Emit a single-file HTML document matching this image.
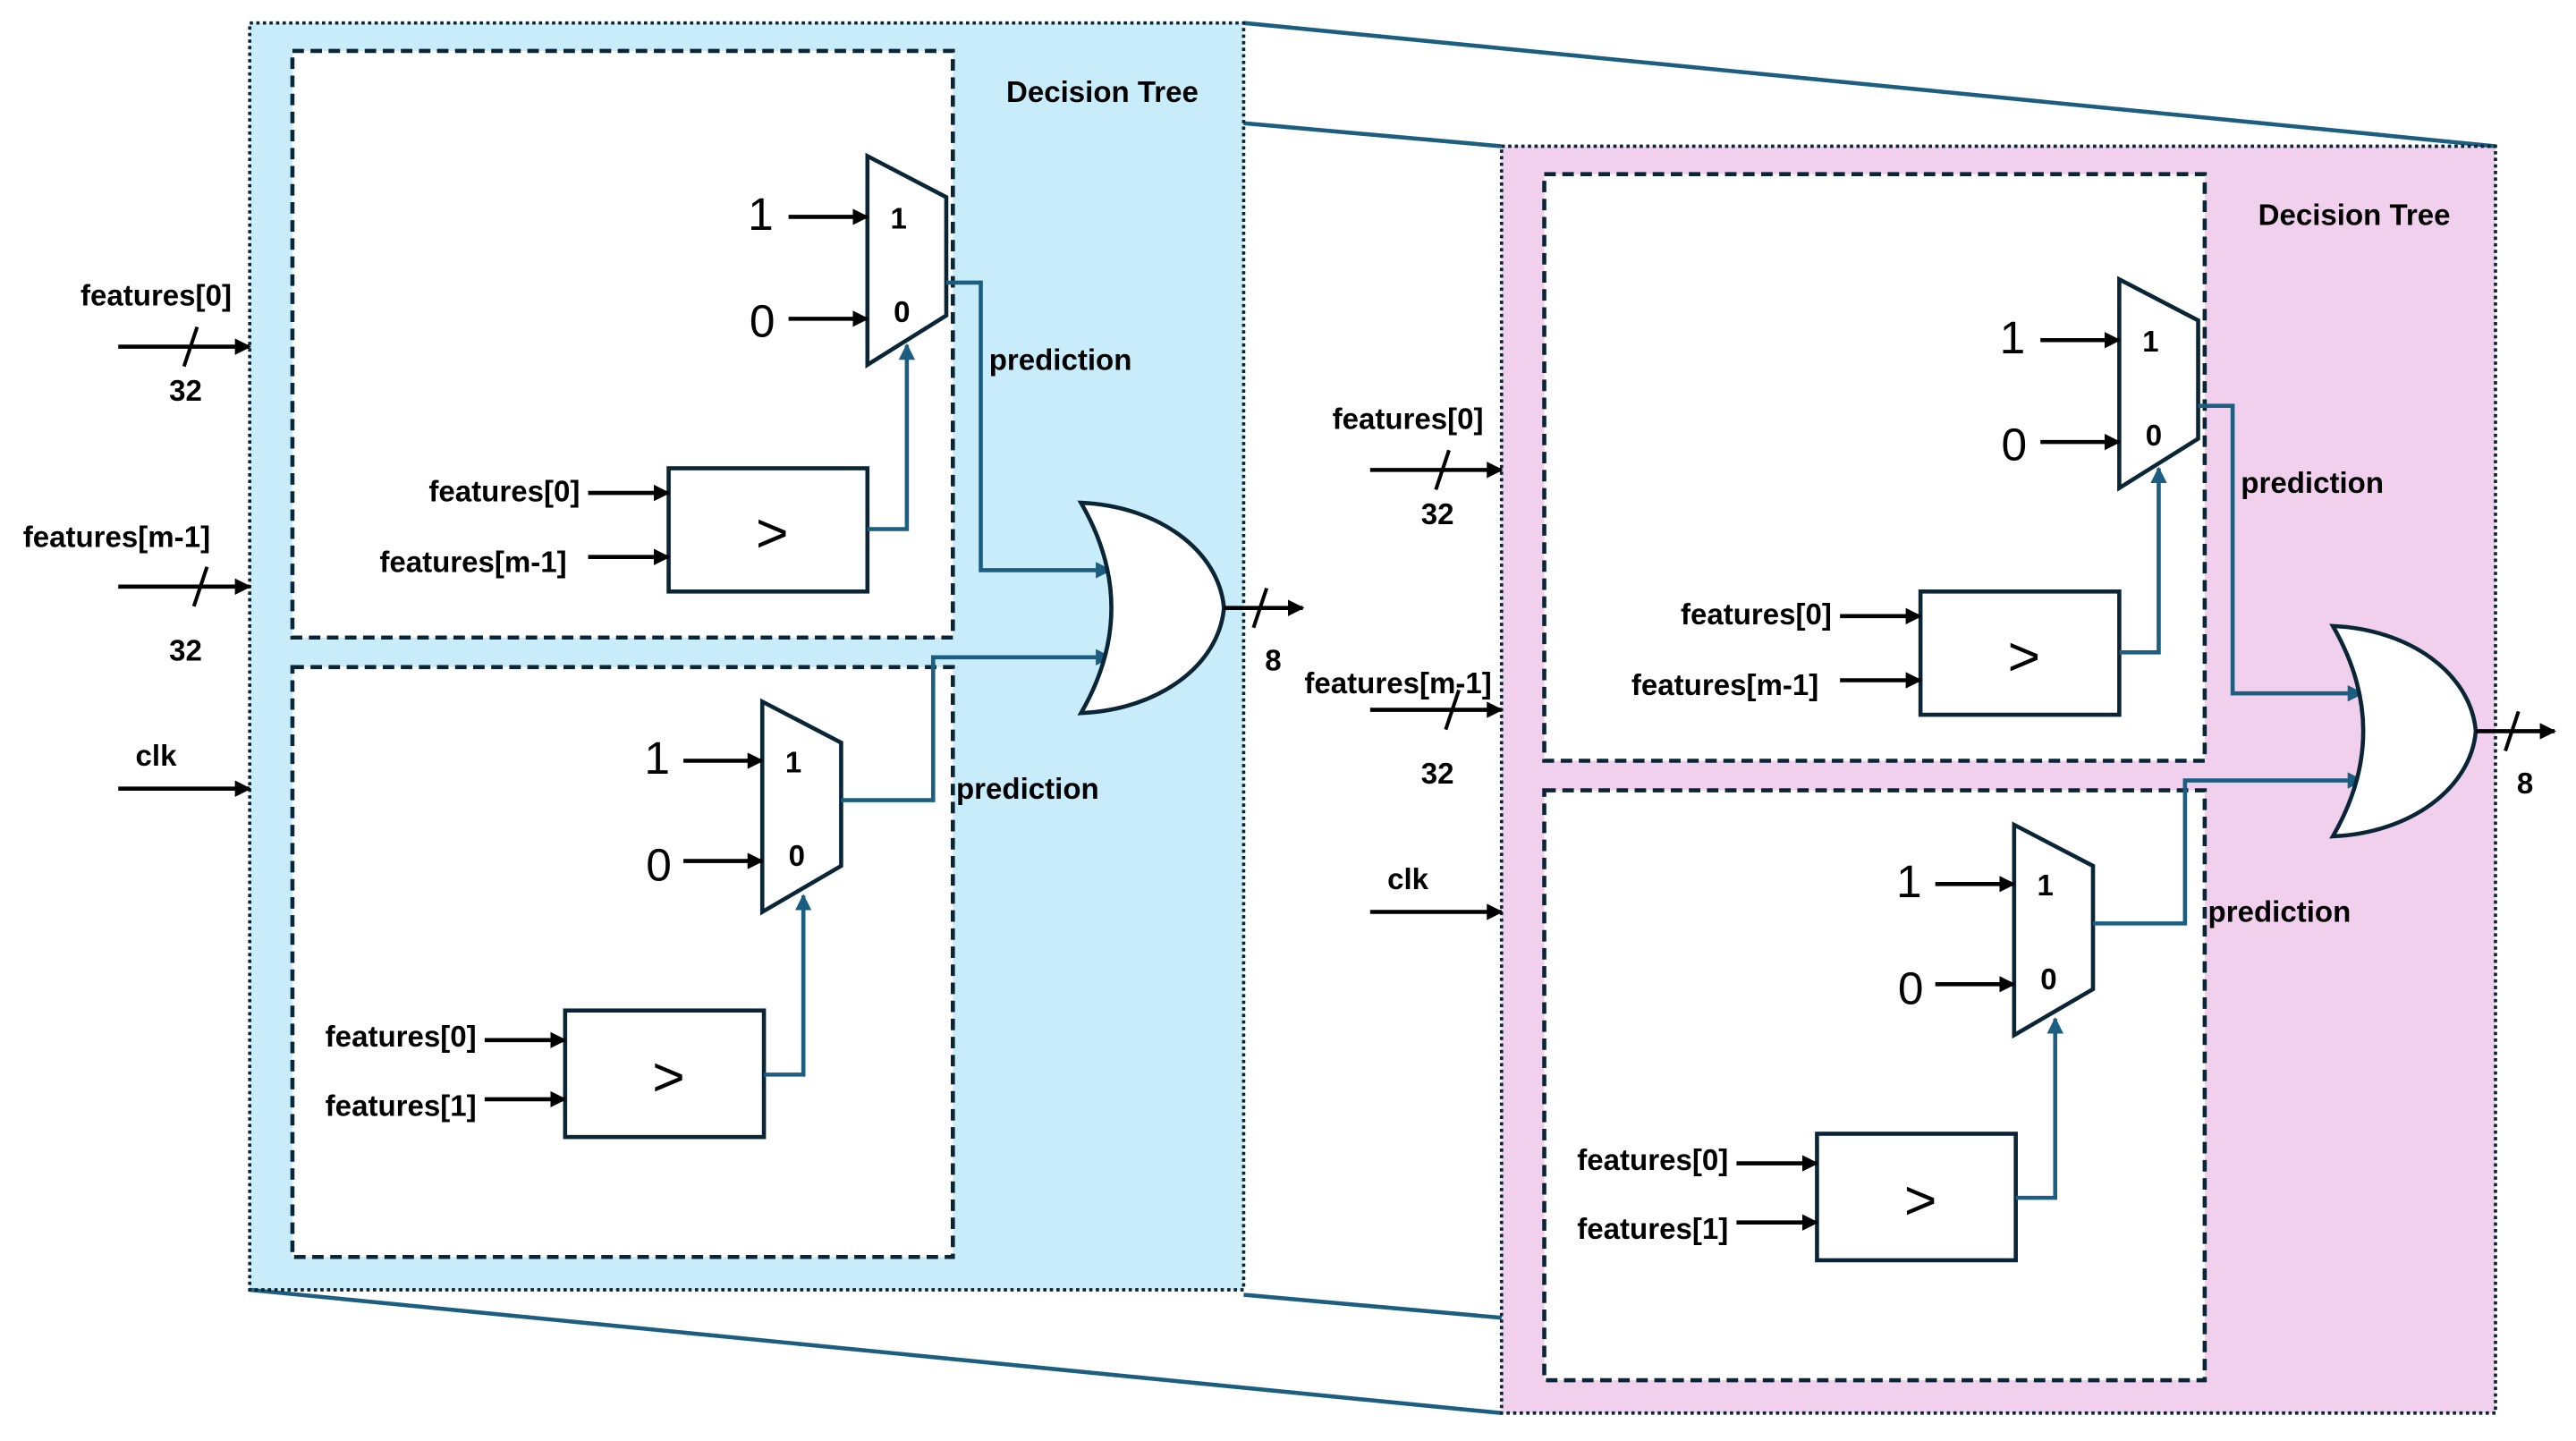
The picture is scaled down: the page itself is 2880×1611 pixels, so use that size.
<!DOCTYPE html>
<html><head><meta charset="utf-8"><style>
html,body{margin:0;padding:0;background:#fff}
svg{display:block}
text{font-family:"Liberation Sans",Arial,sans-serif;fill:#000}
.b{font-weight:bold;font-size:18px}
</style></head><body>
<svg width="2880" height="1611" viewBox="0 0 1568 877" preserveAspectRatio="none" xmlns="http://www.w3.org/2000/svg">
<defs>
<marker id="ak" markerWidth="10" markerHeight="10" refX="9" refY="5" orient="auto" markerUnits="userSpaceOnUse"><path d="M0,0 L10,5 L0,10 z" fill="#000"/></marker>
<marker id="ab" markerWidth="10" markerHeight="10" refX="9" refY="5" orient="auto" markerUnits="userSpaceOnUse"><path d="M0,0 L10,5 L0,10 z" fill="#1b5e80"/></marker>
<g id="panel">
  <rect x="178" y="31" width="402" height="357" fill="#fff" stroke="#0a2535" stroke-width="2.5" stroke-dasharray="7,4"/>
  <rect x="178" y="406" width="402" height="359" fill="#fff" stroke="#0a2535" stroke-width="2.5" stroke-dasharray="7,4"/>
  <rect x="152" y="14" width="605" height="771" fill="none" stroke="#0a2535" stroke-width="2" stroke-dasharray="2,2"/>
  <text x="671" y="62" class="b" text-anchor="middle">Decision Tree</text>
  <polygon points="528,95 576,120 576,192 528,222" fill="#fff" stroke="#0a2535" stroke-width="2.5"/>
  <text x="547" y="139" class="b" font-size="16" text-anchor="middle">1</text>
  <text x="549" y="196" class="b" font-size="16" text-anchor="middle">0</text>
  <text x="463" y="140" font-size="28" text-anchor="middle">1</text>
  <text x="464" y="205" font-size="28" text-anchor="middle">0</text>
  <line x1="480" y1="132" x2="528" y2="132" stroke="#000" stroke-width="2.5" marker-end="url(#ak)"/>
  <line x1="480" y1="194" x2="528" y2="194" stroke="#000" stroke-width="2.5" marker-end="url(#ak)"/>
  <rect x="407" y="285" width="121" height="75" fill="#fff" stroke="#0a2535" stroke-width="2.5"/>
  <text x="470" y="336" font-size="34" text-anchor="middle">&gt;</text>
  <text x="353" y="305" class="b" text-anchor="end">features[0]</text>
  <text x="345" y="348" class="b" text-anchor="end">features[m-1]</text>
  <line x1="358" y1="300" x2="407" y2="300" stroke="#000" stroke-width="2.5" marker-end="url(#ak)"/>
  <line x1="358" y1="339" x2="407" y2="339" stroke="#000" stroke-width="2.5" marker-end="url(#ak)"/>
  <polyline points="528,322 552,322 552,210" fill="none" stroke="#1b5e80" stroke-width="2.5" marker-end="url(#ab)"/>
  <polyline points="576,172 597,172 597,347 676,347" fill="none" stroke="#1b5e80" stroke-width="2.5" marker-end="url(#ab)"/>
  <text x="602" y="225" class="b">prediction</text>
  <polygon points="464,427 512,452 512,527 464,555" fill="#fff" stroke="#0a2535" stroke-width="2.5"/>
  <text x="483" y="470" class="b" font-size="16" text-anchor="middle">1</text>
  <text x="485" y="527" class="b" font-size="16" text-anchor="middle">0</text>
  <text x="400" y="471" font-size="28" text-anchor="middle">1</text>
  <text x="401" y="536" font-size="28" text-anchor="middle">0</text>
  <line x1="416" y1="463" x2="464" y2="463" stroke="#000" stroke-width="2.5" marker-end="url(#ak)"/>
  <line x1="416" y1="524" x2="464" y2="524" stroke="#000" stroke-width="2.5" marker-end="url(#ak)"/>
  <rect x="344" y="615" width="121" height="77" fill="#fff" stroke="#0a2535" stroke-width="2.5"/>
  <text x="407" y="667" font-size="34" text-anchor="middle">&gt;</text>
  <text x="290" y="637" class="b" text-anchor="end">features[0]</text>
  <text x="290" y="679" class="b" text-anchor="end">features[1]</text>
  <line x1="295" y1="633" x2="344" y2="633" stroke="#000" stroke-width="2.5" marker-end="url(#ak)"/>
  <line x1="295" y1="669" x2="344" y2="669" stroke="#000" stroke-width="2.5" marker-end="url(#ak)"/>
  <polyline points="465,654 489,654 489,545" fill="none" stroke="#1b5e80" stroke-width="2.5" marker-end="url(#ab)"/>
  <polyline points="512,487 568,487 568,400 676,400" fill="none" stroke="#1b5e80" stroke-width="2.5" marker-end="url(#ab)"/>
  <text x="582" y="486" class="b">prediction</text>
  <path d="M658,306 Q695,370 658,434 C705,432 742,405 745,370 C742,335 705,308 658,306 z" fill="#fff" stroke="#0a2535" stroke-width="2.5"/>
  <line x1="745" y1="370" x2="793" y2="370" stroke="#000" stroke-width="2.5" marker-end="url(#ak)"/>
  <line x1="763" y1="382" x2="771" y2="358" stroke="#000" stroke-width="2.2"/>
  <text x="775" y="408" class="b" text-anchor="middle">8</text>
  <text x="95" y="186" class="b" text-anchor="middle">features[0]</text>
  <line x1="72" y1="211" x2="152" y2="211" stroke="#000" stroke-width="2.5" marker-end="url(#ak)"/>
  <line x1="112" y1="223" x2="120" y2="199" stroke="#000" stroke-width="2.2"/>
  <text x="113" y="244" class="b" text-anchor="middle">32</text>
  <line x1="72" y1="357" x2="152" y2="357" stroke="#000" stroke-width="2.5" marker-end="url(#ak)"/>
  <line x1="118" y1="369" x2="126" y2="345" stroke="#000" stroke-width="2.2"/>
  <text x="113" y="402" class="b" text-anchor="middle">32</text>
  <text x="95" y="466" class="b" text-anchor="middle">clk</text>
  <line x1="72" y1="480" x2="152" y2="480" stroke="#000" stroke-width="2.5" marker-end="url(#ak)"/>
</g>
</defs>
<rect x="152" y="14" width="605" height="771" fill="#c9ecfb"/>
<rect x="914" y="89" width="605" height="771" fill="#f1d0ee"/>
<line x1="757" y1="14" x2="1519" y2="89" stroke="#1b5e80" stroke-width="2.5"/>
<line x1="757" y1="75" x2="914" y2="89" stroke="#1b5e80" stroke-width="2.5"/>
<line x1="152" y1="785" x2="914" y2="860" stroke="#1b5e80" stroke-width="2.5"/>
<line x1="757" y1="788" x2="914" y2="802" stroke="#1b5e80" stroke-width="2.5"/>
<use href="#panel"/>
<use href="#panel" transform="translate(762,75)"/>
<text x="71" y="333" class="b" text-anchor="middle">features[m-1]</text>
<text x="851" y="422" class="b" text-anchor="middle">features[m-1]</text>
</svg>
</body></html>
